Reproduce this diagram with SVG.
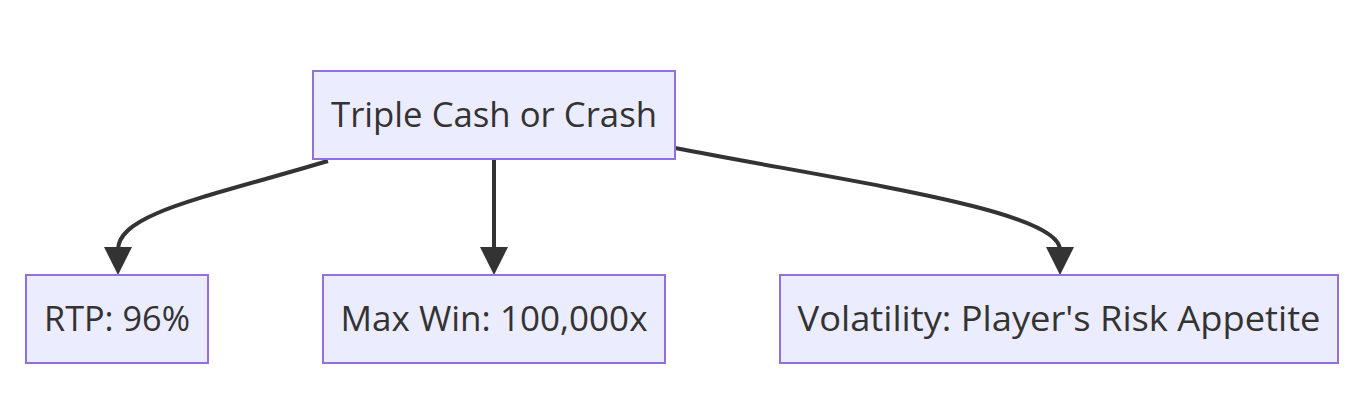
<svg xmlns="http://www.w3.org/2000/svg" width="1365" height="412" viewBox="0 0 1365 412">
<style>
.node rect{fill:#ECECFF;stroke:#9370DB;stroke-width:2}
.node text{font-family:"Open Sans","DejaVu Sans",sans-serif;font-size:34px;fill:#333;text-anchor:middle}
.edge{fill:none;stroke:#333;stroke-width:4}
.head{fill:#333}
</style>
<rect width="1365" height="412" fill="#fff"/>
<g id="connectors">
<path class="edge" d="M328,161 C200,199 118,214 118,250"/>
<polygon class="head" points="104,247 132,247 118,275"/>
<path class="edge" d="M494,159 L494,250"/>
<polygon class="head" points="480,247 508,247 494,275"/>
<path class="edge" d="M675,148 C850,182 1060,210 1060,250"/>
<polygon class="head" points="1046,247 1074,247 1060,275"/>
</g>
<g id="node-main" class="node">
<rect x="313" y="71" width="362" height="88"/>
<text x="494" y="127" textLength="326" lengthAdjust="spacingAndGlyphs">Triple Cash or Crash</text>
</g>
<g id="node-rtp" class="node">
<rect x="26" y="275" width="182" height="88"/>
<text x="117" y="331" textLength="146" lengthAdjust="spacingAndGlyphs">RTP: 96%</text>
</g>
<g id="node-maxwin" class="node">
<rect x="323" y="275" width="342" height="88"/>
<text x="494" y="331" textLength="307" lengthAdjust="spacingAndGlyphs">Max Win: 100,000x</text>
</g>
<g id="node-volatility" class="node">
<rect x="780" y="275" width="558" height="88"/>
<text x="1059" y="331" textLength="523" lengthAdjust="spacingAndGlyphs">Volatility: Player's Risk Appetite</text>
</g>
</svg>
